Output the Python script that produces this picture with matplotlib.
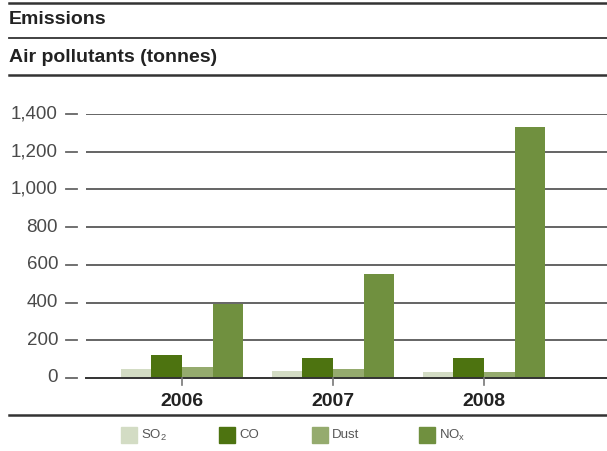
import numpy as np
import matplotlib
matplotlib.use("Agg")
import matplotlib.pyplot as plt
from matplotlib.patches import Rectangle
from matplotlib.lines import Line2D

plt.rcParams['font.family'] = ['Liberation Sans', 'DejaVu Sans']
plt.rcParams['mathtext.fontset'] = 'custom'
plt.rcParams['mathtext.rm'] = 'Liberation Sans'

years = ["2006", "2007", "2008"]
so2 = [48, 37, 32]
co = [122, 106, 106]
dust = [58, 48, 32]
nox = [392, 551, 1331]
series_names = ["SO$_\\mathrm{2}$", "CO", "Dust", "NO$_\\mathrm{x}$"]
series_colors = ["#d3dcc4", "#4d7310", "#95ab6e", "#70903f"]
yticks = [0, 200, 400, 600, 800, 1000, 1200, 1400]

W, H = 607, 451
fig = plt.figure(figsize=(W / 100, H / 100), dpi=100)

def fx(x):
    return x / W

def fy(y):
    return 1 - y / H

# header rules and titles
for y, lw in [(3, 1.8), (38, 1.3), (75, 1.8), (415, 1.8)]:
    fig.add_artist(Line2D([fx(9), 1], [fy(y), fy(y)], color="#333333", lw=lw))
fig.text(fx(9), fy(19.5), "Emissions", fontsize=14, fontweight="bold",
         color="#222222", va="center", ha="left")
fig.text(fx(9), fy(57.5), "Air pollutants (tonnes)", fontsize=14, fontweight="bold",
         color="#222222", va="center", ha="left")

ax = fig.add_axes([fx(86), fy(378), fx(607 - 86), (378 - 114) / H])
ax.set_xlim(-0.636, 2.815)
ax.set_ylim(0, 1400)
for s in ax.spines.values():
    s.set_visible(False)
ax.set_xticks([])
ax.set_yticks([])

for v in yticks[1:]:
    ax.axhline(v, color="#3a3a3a", lw=1.1, zorder=1)
ax.axhline(0, color="#333333", lw=1.4, zorder=3, clip_on=False)

x = np.arange(len(years))
w = 0.203
data = [so2, co, dust, nox]
for i, (vals, c) in enumerate(zip(data, series_colors)):
    ax.bar(x + (i - 1.5) * w, vals, width=w, color=c, zorder=2, linewidth=0)

# y tick labels with detached dashes
for v in yticks:
    ax.text(-28 / 521, v, f"{v:,}", transform=ax.get_yaxis_transform(),
            ha="right", va="center", fontsize=13.5, color="#4a4a4a")
    ax.plot([-20 / 521, -9 / 521], [v, v], transform=ax.get_yaxis_transform(),
            color="#666666", lw=1.3, clip_on=False)

# x ticks and year labels
for xi, yr in zip(x, years):
    ax.plot([xi, xi], [0, -38], color="#777777", lw=1.2, clip_on=False, zorder=3)
    ax.text(xi, -125, yr, ha="center", va="center", fontsize=14,
            fontweight="bold", color="#222222")

# legend
leg_x = [121, 219, 312, 419]
for lx, name, c in zip(leg_x, series_names, series_colors):
    fig.add_artist(Rectangle((fx(lx), fy(443)), fx(16), 16 / H, color=c,
                             transform=fig.transFigure))
    fig.text(fx(lx + 20), fy(435.5), name, fontsize=9.5, color="#555555",
             ha="left", va="center")

fig.savefig("out.png", dpi=100)
